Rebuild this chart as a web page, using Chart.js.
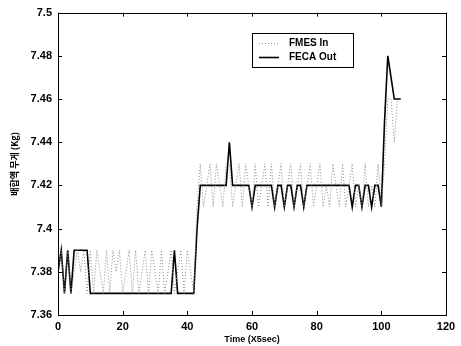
<!DOCTYPE html>
<html>
<head>
<meta charset="utf-8">
<script src="https://cdn.jsdelivr.net/npm/chart.js@4/dist/chart.umd.min.js"></script>
<style>
html,body{margin:0;padding:0;background:#fff;}
#wrap{width:461px;height:346px;position:relative;}
</style>
</head>
<body>
<div id="wrap"><canvas id="c" width="461" height="346"></canvas></div>
<script>
// ---- data ----
const seriesNames = ["FMES In", "FECA Out"];
const xTitle = "Time (X5sec)";
const yTitle = "배합액 무게 (Kg)";
const xTicks = [0, 20, 40, 60, 80, 100, 120];
const yTicks = [7.36, 7.38, 7.4, 7.42, 7.44, 7.46, 7.48, 7.5];

// time index 0..105 (FMES In)
const fmesIn = [
  7.38, 7.39, 7.37, 7.39, 7.37, 7.38, 7.39, 7.38, 7.39, 7.37,
  7.39, 7.37, 7.39, 7.38, 7.37, 7.39, 7.37, 7.39, 7.38, 7.39,
  7.37, 7.38, 7.39, 7.37, 7.39, 7.37, 7.38, 7.39, 7.37, 7.39,
  7.38, 7.37, 7.39, 7.37, 7.38, 7.39, 7.37, 7.38, 7.39, 7.37,
  7.39, 7.38, 7.37, 7.41, 7.43, 7.41, 7.42, 7.43, 7.41, 7.43,
  7.42, 7.41, 7.43, 7.43, 7.41, 7.42, 7.43, 7.41, 7.43, 7.42,
  7.41, 7.43, 7.41, 7.42, 7.43, 7.41, 7.43, 7.41, 7.42, 7.43,
  7.41, 7.42, 7.43, 7.41, 7.42, 7.43, 7.41, 7.42, 7.43, 7.41,
  7.42, 7.43, 7.41, 7.42, 7.41, 7.43, 7.42, 7.41, 7.43, 7.41,
  7.42, 7.43, 7.41, 7.42, 7.41, 7.43, 7.41, 7.42, 7.41, 7.43,
  7.41, 7.43, 7.46, 7.46, 7.44, 7.46
];

// time index 0..106 (FECA Out)
const fecaOut = [
  7.38, 7.39, 7.37, 7.39, 7.37, 7.39, 7.39, 7.39, 7.39, 7.39,
  7.37, 7.37, 7.37, 7.37, 7.37, 7.37, 7.37, 7.37, 7.37, 7.37,
  7.37, 7.37, 7.37, 7.37, 7.37, 7.37, 7.37, 7.37, 7.37, 7.37,
  7.37, 7.37, 7.37, 7.37, 7.37, 7.37, 7.39, 7.37, 7.37, 7.37,
  7.37, 7.37, 7.37, 7.40, 7.42, 7.42, 7.42, 7.42, 7.42, 7.42,
  7.42, 7.42, 7.42, 7.44, 7.42, 7.42, 7.42, 7.42, 7.42, 7.42,
  7.41, 7.42, 7.42, 7.42, 7.42, 7.42, 7.42, 7.41, 7.42, 7.42,
  7.41, 7.42, 7.42, 7.41, 7.42, 7.42, 7.41, 7.42, 7.42, 7.42,
  7.42, 7.42, 7.42, 7.42, 7.42, 7.42, 7.42, 7.42, 7.42, 7.42,
  7.42, 7.41, 7.42, 7.42, 7.41, 7.42, 7.42, 7.41, 7.42, 7.42,
  7.41, 7.45, 7.48, 7.47, 7.46, 7.46, 7.46
];

const toPts = arr => arr.map((v, i) => ({x: i, y: v}));

const FONT = "'Liberation Sans', Arial, sans-serif";

const framePlugin = {
  id: 'frame',
  afterDraw(chart) {
    const {ctx, chartArea: a, scales} = chart;
    ctx.save();
    ctx.strokeStyle = '#000';
    ctx.lineWidth = 1;
    ctx.strokeRect(Math.round(a.left) + 0.5, Math.round(a.top) + 0.5,
                   Math.round(a.right - a.left), Math.round(a.bottom - a.top));
    const L = 4;
    ctx.beginPath();
    scales.x.ticks.forEach(t => {
      const px = Math.round(scales.x.getPixelForValue(t.value)) + 0.5;
      ctx.moveTo(px, a.bottom); ctx.lineTo(px, a.bottom - L);
      ctx.moveTo(px, a.top); ctx.lineTo(px, a.top + L);
    });
    scales.y.ticks.forEach(t => {
      const py = Math.round(scales.y.getPixelForValue(t.value)) + 0.5;
      ctx.moveTo(a.left, py); ctx.lineTo(a.left + L, py);
      ctx.moveTo(a.right, py); ctx.lineTo(a.right - L, py);
    });
    ctx.stroke();

    // legend box
    const bx = 252, by = 33, bw = 101, bh = 34;
    ctx.fillStyle = '#fff';
    ctx.fillRect(bx, by, bw, bh);
    ctx.strokeRect(bx + 0.5, by + 0.5, bw, bh);
    ctx.font = "bold 10px " + FONT;
    ctx.textBaseline = 'middle';
    ctx.textAlign = 'left';
    const rows = [by + 10, by + 24];
    chart.data.datasets.forEach((ds, i) => {
      ctx.save();
      ctx.strokeStyle = ds.borderColor;
      ctx.lineWidth = ds.borderWidth;
      ctx.setLineDash(ds.borderDash || []);
      ctx.beginPath();
      ctx.moveTo(259, rows[i] + 0.5); ctx.lineTo(279, rows[i] + 0.5);
      ctx.stroke();
      ctx.restore();
      ctx.fillStyle = '#000';
      ctx.fillText(ds.label, 289, rows[i]);
    });
    ctx.restore();
  }
};

new Chart(document.getElementById('c'), {
  type: 'line',
  data: {
    datasets: [
      {
        label: seriesNames[0],
        data: toPts(fmesIn),
        borderColor: '#8a8a8a',
        borderWidth: 1,
        borderDash: [1, 2],
        pointRadius: 0,
        tension: 0
      },
      {
        label: seriesNames[1],
        data: toPts(fecaOut),
        borderColor: '#000',
        borderWidth: 1.6,
        pointRadius: 0,
        tension: 0
      }
    ]
  },
  options: {
    responsive: false,
    animation: false,
    layout: {padding: {left: 0, top: 11, right: 15, bottom: 0}},
    plugins: {legend: {display: false}, tooltip: {enabled: false}},
    scales: {
      x: {
        type: 'linear',
        min: xTicks[0], max: xTicks[xTicks.length - 1],
        afterBuildTicks: s => { s.ticks = xTicks.map(v => ({value: v})); },
        afterFit: s => { s.height = 31; },
        grid: {display: false, drawTicks: false},
        border: {display: false},
        ticks: {color: '#000', font: {family: FONT, size: 11, weight: 'bold'}, padding: 5, maxRotation: 0,
                callback: v => String(v)},
        title: {display: true, text: xTitle, color: '#000',
                font: {family: FONT, size: 9, weight: 'bold'}, padding: {top: 0, bottom: 1}}
      },
      y: {
        type: 'linear',
        min: yTicks[0], max: yTicks[yTicks.length - 1],
        afterBuildTicks: s => { s.ticks = yTicks.map(v => ({value: v})); },
        afterFit: s => { s.width = 58; },
        grid: {display: false, drawTicks: false},
        border: {display: false},
        ticks: {color: '#000', font: {family: FONT, size: 11, weight: 'bold'}, padding: 6,
                callback: v => String(Number(v.toFixed(2)))},
        title: {display: true, text: yTitle, color: '#000',
                font: {family: "'Noto Sans CJK KR', " + FONT, size: 9, weight: 'bold'}, padding: {top: 9, bottom: 0}}
      }
    }
  },
  plugins: [framePlugin]
});
</script>
</body>
</html>
